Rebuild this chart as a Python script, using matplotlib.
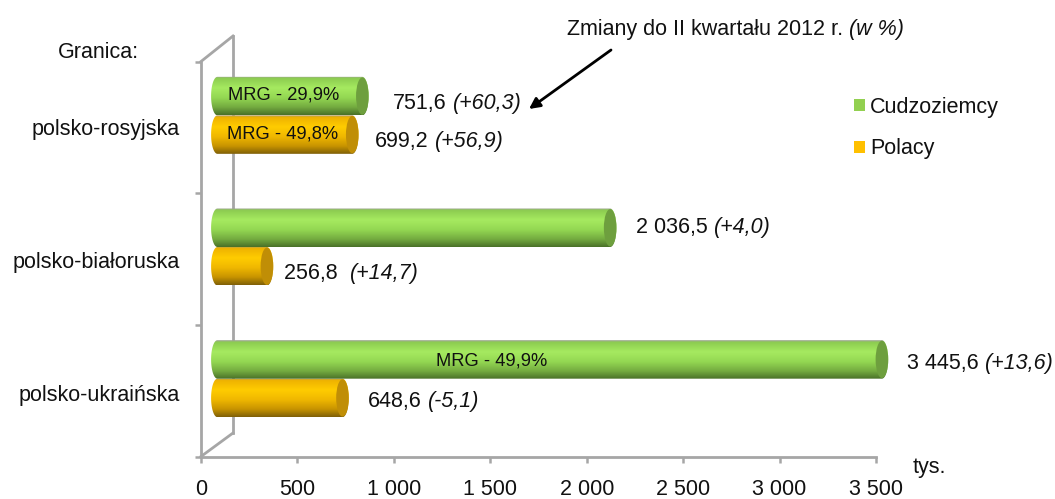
import numpy as np
import matplotlib
matplotlib.use("Agg")
import matplotlib.pyplot as plt
from matplotlib.path import Path
from matplotlib.patches import Ellipse, Patch
from matplotlib.lines import Line2D
from matplotlib.transforms import Affine2D, IdentityTransform
from matplotlib.colors import to_rgb

plt.rcParams['font.family'] = ['Liberation Sans', 'DejaVu Sans']

# ---- data ----
borders = ['polsko-rosyjska', 'polsko-białoruska', 'polsko-ukraińska']
foreigners = [751.6, 2036.5, 3445.6]
poles = [699.2, 256.8, 648.6]
foreigners_text = ['751,6', '2 036,5', '3 445,6']
foreigners_change = ['(+60,3)', '(+4,0)', '(+13,6)']
poles_text = ['699,2', '256,8 ', '648,6']
poles_change = ['(+56,9)', '(+14,7)', '(-5,1)']
foreigners_mrg = ['MRG - 29,9%', None, 'MRG - 49,9%']
poles_mrg = ['MRG - 49,8%', None, None]
x_ticks = [0, 500, 1000, 1500, 2000, 2500, 3000, 3500]
x_labels = ['0', '500', '1 000', '1 500', '2 000', '2 500', '3 000', '3 500']
series_names = ['Cudzoziemcy', 'Polacy']

W, H = 1055, 499
fig = plt.figure(figsize=(W / 100, H / 100), dpi=100)
L, R, T, B = 201, 876, 61.5, 456.5
ax = fig.add_axes([L / W, 1 - B / H, (R - L) / W, (B - T) / H])
ax.set_xlim(0, 3500)
ax.set_ylim(0, 3)

px = Affine2D().scale(1, -1).translate(0, H)   # reference pixel coordinates
bar_t = ax.transData + Affine2D().translate(16.4, 12)

GREY = '#a6a6a6'
for s in ['top', 'right']:
    ax.spines[s].set_visible(False)
for s in ['left', 'bottom']:
    ax.spines[s].set_color(GREY)
    ax.spines[s].set_linewidth(2.0)
ax.patch.set_visible(False)

# back wall
for xs, ys in [([233, 233], [36, 433]), ([201, 233], [61.5, 36]), ([201, 233], [456.5, 433])]:
    ax.add_line(Line2D(xs, ys, color=GREY, lw=2.0, transform=px, clip_on=False, zorder=1))

FS = 15.5
ax.set_xticks(x_ticks, x_labels)
ax.set_yticks([0, 1, 2, 3], [])
ax.set_yticks([0.485, 1.495, 2.505], borders[::-1], minor=True)
ax.tick_params(axis='x', length=4.5, width=1.8, color=GREY, labelsize=FS, pad=11.6, labelcolor='#111111')
ax.tick_params(axis='y', which='major', length=4.5, width=1.8, color=GREY)
ax.tick_params(axis='y', which='minor', length=0, labelsize=FS, pad=15.5, labelcolor='#111111')

green_stops = ['#9fa595', '#8ccc50', '#a6ea60', '#94d853', '#74ab40', '#4a7229']
orange_stops = ['#aa9a68', '#eeb200', '#ffcc00', '#f0b800', '#c89400', '#806008']
stop_pos = [0.0, 0.05, 0.30, 0.55, 0.80, 1.0]


def gradient(stops):
    t = np.linspace(0, 1, 64)
    rgb = np.array([to_rgb(c) for c in stops])
    return np.stack([np.interp(t, stop_pos, rgb[:, i]) for i in range(3)], axis=1)[:, None, :]


RX = 6.3 * 3500 / (R - L)
BH = 38.5 / ((B - T) / 3)


def cylinder(value, y0, stops, cap):
    y1 = y0 + BH
    yc = (y0 + y1) / 2
    a = np.linspace(np.pi / 2, -np.pi / 2, 40)
    xr = value + RX * np.cos(a)
    xl = -RX * np.cos(a[::-1])
    ys_ = yc + BH / 2 * np.sin(a)
    pts = np.vstack([np.c_[xr, ys_], np.c_[xl, ys_[::-1]], [[xr[0], ys_[0]]]])
    path = Path(pts)
    im = ax.imshow(gradient(stops), extent=(-RX, value + RX, y0, y1), aspect='auto',
                   origin='upper', interpolation='bilinear', zorder=3)
    im.set_transform(bar_t)
    im.set_clip_path(path, bar_t)
    im.set_clip_box(fig.bbox)
    ax.add_patch(Ellipse((value, yc), 2 * RX, BH * 0.97, facecolor=cap, edgecolor='none',
                         transform=bar_t, clip_on=False, zorder=4))


ys = [2.5, 1.5, 0.5]
for yb, f, p in zip(ys, foreigners, poles):
    cylinder(p, yb - BH, orange_stops, '#c08e06')
    cylinder(f, yb, green_stops, '#6e9f3e')
ax.set_xlim(0, 3500)
ax.set_ylim(0, 3)

TXT = '#111111'


def ptext(x, y, s, **kw):
    kw.setdefault('fontsize', FS)
    kw.setdefault('color', TXT)
    kw.setdefault('va', 'center')
    return ax.text(x, y, s, transform=px, clip_on=False, zorder=6, **kw)


def mixed(x, y, regular, italic):
    t = ptext(x, y, regular)
    fig.canvas.draw()
    bb = t.get_window_extent()
    ptext(bb.x1 + 6, y, italic, style='italic')


f_pos = [(393, 104), (636, 227), (907, 363)]
p_pos = [(375, 142), (284, 274), (368, 402)]
for (x, y), a, b in zip(f_pos, foreigners_text, foreigners_change):
    mixed(x, y, a, b)
for (x, y), a, b in zip(p_pos, poles_text, poles_change):
    mixed(x, y, a, b)

# MRG labels inside the bars
for (x, y), s in zip([(284, 95), (None, None), (492, 361)], foreigners_mrg):
    if s:
        ptext(x, y, s, fontsize=13.2, ha='center')
for (x, y), s in zip([(283, 134), (None, None), (None, None)], poles_mrg):
    if s:
        ptext(x, y, s, fontsize=13.2, ha='center')

ptext(58, 53, 'Granica:')
ptext(913, 468, 'tys.')

t = ptext(567, 29, 'Zmiany do II kwartału 2012 r.')
fig.canvas.draw()
ptext(t.get_window_extent().x1 + 6, 29, '(w %)', style='italic')

ax.annotate('', xy=(529, 109), xytext=(611, 50), xycoords=px, textcoords=px,
            arrowprops=dict(arrowstyle='-|>', color='black', lw=2.0, mutation_scale=16,
                            shrinkA=0, shrinkB=0), zorder=6)

handles = [Patch(facecolor='#92d050', edgecolor='none'), Patch(facecolor='#ffc000', edgecolor='none')]
leg = ax.legend(handles, series_names, loc='upper left', frameon=False, fontsize=FS,
                bbox_to_anchor=tuple(px.transform((854, 96.5))), bbox_transform=IdentityTransform(),
                borderpad=0, borderaxespad=0, handlelength=0.5, handleheight=0.5,
                handletextpad=0.24, labelspacing=0.97, labelcolor=TXT)

fig.savefig('out.png', dpi=100, facecolor='white')
